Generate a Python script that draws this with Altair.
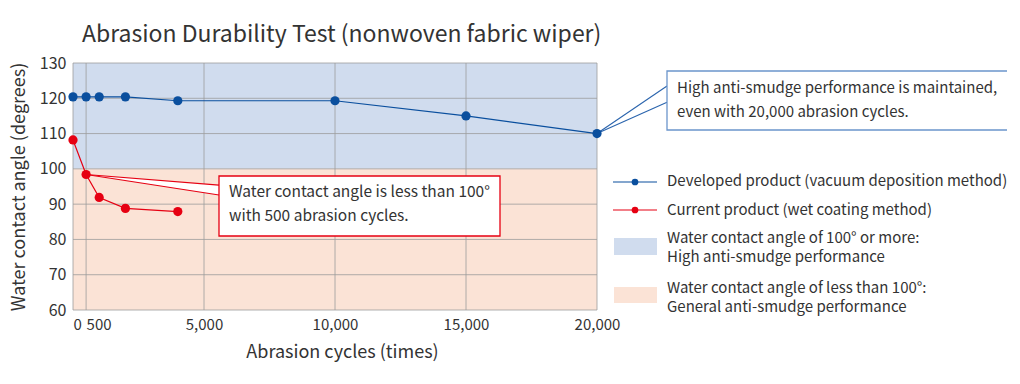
import altair as alt
import pandas as pd

# ---- data ----
cycles = [0, 500, 1000, 2000, 4000, 10000, 15000, 20000]
developed = [120.4, 120.4, 120.4, 120.4, 119.3, 119.3, 115.0, 110.0]
current_cycles = [0, 500, 1000, 2000, 4000]
current = [108.2, 98.4, 91.9, 88.8, 87.9]

series_names = ["Developed product (vacuum deposition method)",
                "Current product (wet coating method)"]
x_ticks = [0, 500, 5000, 10000, 15000, 20000]
x_grid = [0, 500, 5000, 10000, 15000, 20000]
y_grid = [60, 70, 80, 90, 100, 110, 120, 130]
band_low = [100, 60]
band_high = [130, 100]

FONT = "Noto Sans CJK JP"
TXT = "#333333"
BLUE = "#0a4f9e"
BLUE_LINE = "#2a64ad"
RED = "#e60012"
BAND_BLUE = "#d0dcee"
BAND_PEACH = "#fbe3d6"
GRID = "#9c9c9c"
W, H = 524, 247

rows = []
for c, v in zip(cycles, developed):
    rows.append({"series": series_names[0], "cycles": c, "angle": v})
for c, v in zip(current_cycles, current):
    rows.append({"series": series_names[1], "cycles": c, "angle": v})
df = pd.DataFrame(rows)

xs = alt.Scale(domain=[0, 20000], nice=False, zero=True)
ys = alt.Scale(domain=[60, 130], nice=False, zero=False)
cscale = alt.Scale(domain=series_names, range=[BLUE, RED])
one = pd.DataFrame({"k": [0]})

YA = alt.Axis(values=y_grid, grid=False, ticks=False, domain=False,
              labelFont=FONT, labelFontSize=16, labelColor=TXT, labelPadding=7,
              title=None)
XA = alt.Axis(values=x_ticks, format=",d", grid=False, ticks=False, domain=False,
              labelFont=FONT, labelFontSize=15, labelColor=TXT, labelPadding=7,
              labelOverlap=False, labelFlush=False,
              labelAlign=alt.condition("datum.value <= 500", alt.value("left"), alt.value("center")),
              title="Abrasion cycles (times)", titleFont=FONT, titleFontSize=18,
              titleFontWeight="normal", titleColor=TXT, titleX=269, titleY=42,
              titleBaseline="middle")


def X(f):
    return alt.X(f, scale=xs, axis=XA)


def Y(f):
    return alt.Y(f, scale=ys, axis=YA)


# background bands
bands_df = pd.DataFrame({"lo": band_low, "hi": band_high, "band": ["high", "general"]})
bands = alt.Chart(bands_df).mark_rect().encode(
    x=alt.value(0), x2=alt.value(W),
    y=Y("lo:Q"), y2="hi:Q",
    fill=alt.Fill("band:N", scale=alt.Scale(domain=["high", "general"],
                                            range=[BAND_BLUE, BAND_PEACH]), legend=None),
)

gx = alt.Chart(pd.DataFrame({"g": x_grid})).mark_rule(color=GRID, strokeWidth=0.8).encode(
    x=X("g:Q"), y=alt.value(0), y2=alt.value(H))
gy = alt.Chart(pd.DataFrame({"g": y_grid})).mark_rule(color=GRID, strokeWidth=0.8).encode(
    y=Y("g:Q"), x=alt.value(0), x2=alt.value(W))

lines = alt.Chart(df).mark_line(strokeWidth=1.2).encode(
    x=X("cycles:Q"), y=Y("angle:Q"),
    color=alt.Color("series:N", scale=cscale, legend=None),
    detail="series:N",
)
points = alt.Chart(df).mark_circle(size=85, opacity=1).encode(
    x=X("cycles:Q"), y=Y("angle:Q"),
    color=alt.Color("series:N", scale=cscale, legend=None),
)

# callout pointers (data end anchored on the data points)
red_anchor_c, red_anchor_v = current_cycles[1], current[1]
blue_anchor_c, blue_anchor_v = cycles[-1], developed[-1]
wedge_fill = alt.Chart(pd.DataFrame({
    "c": [red_anchor_c, 5573], "lo": [red_anchor_v, 95.4], "hi": [red_anchor_v, 92.6]
})).mark_area(color="white", opacity=1).encode(
    x=X("c:Q"), y=Y("lo:Q"), y2="hi:Q")
red_ptr = alt.Chart(pd.DataFrame({
    "c": [red_anchor_c] * 2, "v": [red_anchor_v] * 2, "c2": [5573, 5573], "v2": [95.4, 92.6]
})).mark_rule(color=RED, strokeWidth=1.1).encode(
    x=X("c:Q"), y=Y("v:Q"), x2="c2:Q", y2="v2:Q")
blue_ptr = alt.Chart(pd.DataFrame({
    "c": [blue_anchor_c] * 2, "v": [blue_anchor_v] * 2, "c2": [22672, 22672], "v2": [123.5, 118.9]
})).mark_rule(color=BLUE_LINE, strokeWidth=1.1).encode(
    x=X("c:Q"), y=Y("v:Q"), x2="c2:Q", y2="v2:Q")


def box(x1, x2, y1, y2, stroke):
    return alt.Chart(one).mark_rect(fill="white", stroke=stroke, strokeWidth=1.3).encode(
        x=alt.value(x1), x2=alt.value(x2), y=alt.value(y1), y2=alt.value(y2))


def label(t, x, y, size=15, color=TXT, align="left", angle=0):
    return alt.Chart(one).mark_text(align=align, baseline="middle", font=FONT,
                                    fontSize=size, color=color, angle=angle).encode(
        x=alt.value(x), y=alt.value(y), text=alt.value(t))


box1 = box(146, 427, 113, 173, RED)
box2 = box(594, 937, 8, 67, "#6b95cb")

texts = [
    label("Water contact angle is less than 100°", 156, 129, size=15.5),
    label("with 500 abrasion cycles.", 156, 153, size=15.5),
    label("High anti-smudge performance is maintained,", 604, 25),
    label("even with 20,000 abrasion cycles.", 604, 49),
    label(series_names[0], 594, 118),
    label(series_names[1], 594, 147),
    label("Water contact angle of 100° or more:", 594, 175),
    label("High anti-smudge performance", 594, 194),
    label("Water contact angle of less than 100°:", 594, 225),
    label("General anti-smudge performance", 594, 244),
    label("Abrasion Durability Test (nonwoven fabric wiper)", 9, -28, size=23),
    label("Water contact angle (degrees)", -53, 124, size=18, align="center", angle=270),
]


def leg_line(y, color):
    ln = alt.Chart(one).mark_rule(color=color, strokeWidth=1.2).encode(
        x=alt.value(540), x2=alt.value(584), y=alt.value(y))
    dt = alt.Chart(one).mark_circle(color=color, size=45, opacity=1).encode(
        x=alt.value(562), y=alt.value(y))
    return [ln, dt]


def leg_rect(y1, y2, color):
    return alt.Chart(one).mark_rect(color=color).encode(
        x=alt.value(541), x2=alt.value(584), y=alt.value(y1), y2=alt.value(y2))


legend = leg_line(119, BLUE) + leg_line(147, RED) + [
    leg_rect(175, 192, BAND_BLUE), leg_rect(224, 240, BAND_PEACH)]

chart = alt.layer(
    bands, gx, gy, lines, wedge_fill, red_ptr, blue_ptr, points, box1, box2,
    *legend, *texts
).properties(
    width=W, height=H,
    autosize=alt.AutoSizeParams(type="none"),
    padding={"left": 65, "top": 55, "right": 410, "bottom": 62},
).configure_view(stroke=None)

chart.save("out.html", embed_options={"renderer": "svg", "actions": False})
